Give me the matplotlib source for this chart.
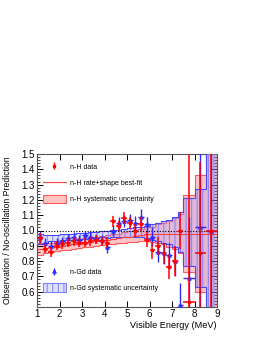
import matplotlib
matplotlib.use("Agg")
import matplotlib.pyplot as plt
from matplotlib.patches import Patch
from matplotlib.lines import Line2D

plt.rcParams['font.family'] = ['Liberation Sans', 'DejaVu Sans']
plt.rcParams['hatch.linewidth'] = 0.7

# bin edges (MeV)
edges = [1.0, 1.25, 1.5, 1.75, 2.0, 2.25, 2.5, 2.75, 3.0, 3.25, 3.5, 3.75, 4.0,
         4.25, 4.5, 4.75, 5.0, 5.25, 5.5, 5.75, 6.0, 6.25, 6.5, 6.75, 7.0,
         7.25, 7.5, 8.0, 8.5, 9.0]
centers = [1.125, 1.375, 1.625, 1.875, 2.125, 2.375, 2.625, 2.875, 3.125, 3.375,
           3.625, 3.875, 4.125, 4.375, 4.625, 4.875, 5.125, 5.375, 5.625, 5.875,
           6.125, 6.375, 6.625, 6.875, 7.125, 7.375, 7.75, 8.25, 8.75]

# n-H data
h_ratio = [0.95, 0.88, 0.86, 0.90, 0.91, 0.92, 0.93, 0.92, 0.92, 0.93, 0.94, 0.93,
           0.92, 1.06, 1.03, 1.08, 1.05, 1.00, 1.04, 0.94, 0.87, 0.90, 0.85, 0.76,
           0.80, 1.00, 0.53, 0.85, 1.00]
h_err = [0.035, 0.03, 0.03, 0.03, 0.03, 0.03, 0.03, 0.03, 0.03, 0.03, 0.03, 0.03,
         0.035, 0.035, 0.035, 0.04, 0.04, 0.04, 0.045, 0.05, 0.055, 0.06, 0.07, 0.08,
         0.1, 0.12, 1.0, 0.6, 0.8]
# n-H best-fit prediction and its systematic band half-width
h_fit = [0.88, 0.885, 0.89, 0.895, 0.90, 0.905, 0.91, 0.915, 0.92, 0.925, 0.93, 0.935,
         0.94, 0.945, 0.95, 0.955, 0.96, 0.965, 0.97, 0.975, 0.975, 0.98, 0.98, 0.98,
         0.98, 0.98, 0.98, 0.98, 0.98]
h_syst = [0.04, 0.035, 0.03, 0.03, 0.03, 0.03, 0.03, 0.03, 0.03, 0.03, 0.03, 0.03,
          0.03, 0.03, 0.03, 0.035, 0.035, 0.04, 0.04, 0.045, 0.05, 0.06, 0.07, 0.085,
          0.1, 0.13, 0.25, 0.38, 0.7]

# n-Gd data
gd_ratio = [0.96, 0.92, 0.90, 0.92, 0.93, 0.95, 0.96, 0.94, 0.97, 0.96, 0.95, 0.94,
            0.89, 1.00, 1.05, 1.06, 1.07, 1.05, 1.09, 1.04, 0.96, 0.86, 0.85, 0.84,
            0.80, 0.51, 0.69, 1.02, 1.00]
gd_err = [0.035, 0.03, 0.03, 0.03, 0.03, 0.03, 0.03, 0.03, 0.03, 0.03, 0.03, 0.03,
          0.035, 0.035, 0.04, 0.04, 0.04, 0.045, 0.05, 0.05, 0.06, 0.065, 0.07, 0.08,
          0.1, 0.15, 0.4, 0.6, 0.9]
gd_pred = [0.945, 0.945, 0.95, 0.95, 0.955, 0.96, 0.96, 0.965, 0.965, 0.97, 0.97, 0.975,
           0.975, 0.98, 0.98, 0.985, 0.985, 0.99, 0.99, 0.99, 0.99, 0.99, 0.99, 0.99,
           0.99, 0.99, 0.99, 0.95, 1.0]
gd_syst = [0.03, 0.025, 0.02, 0.02, 0.02, 0.02, 0.02, 0.02, 0.02, 0.02, 0.02, 0.02,
           0.025, 0.025, 0.025, 0.025, 0.03, 0.03, 0.035, 0.04, 0.05, 0.06, 0.07, 0.08,
           0.1, 0.13, 0.22, 0.32, 0.7]

half_w = [(edges[i + 1] - edges[i]) / 2 for i in range(len(centers))]

fig = plt.figure(figsize=(2.61, 3.38), dpi=100)
ax = fig.add_axes([37 / 261, 31 / 338, 180 / 261, 153 / 338])

red = '#ff0000'
blue = '#2a2aff'
gd_fill = (0.6, 0.6, 1.0, 0.3)

# n-H systematic band
h_lo = [f - s for f, s in zip(h_fit, h_syst)]
h_hi = [f + s for f, s in zip(h_fit, h_syst)]
ax.stairs(h_hi, edges, baseline=h_lo, fill=True, facecolor='#ffc4c4', edgecolor='none', zorder=1)
ax.stairs(h_hi, edges, baseline=None, color='#ff5a5a', lw=0.8, zorder=2)
ax.stairs(h_lo, edges, baseline=None, color='#ff5a5a', lw=0.8, zorder=2)

# n-Gd systematic band
g_lo = [p - s for p, s in zip(gd_pred, gd_syst)]
g_hi = [p + s for p, s in zip(gd_pred, gd_syst)]
ax.stairs(g_hi, edges, baseline=g_lo, fill=True, facecolor=gd_fill,
          edgecolor='#8080ff', hatch='|||', lw=0, zorder=3)
ax.stairs(g_hi, edges, baseline=None, color='#4848ff', lw=0.8, zorder=4)
ax.stairs(g_lo, edges, baseline=None, color='#4848ff', lw=0.8, zorder=4)

# best fit line
ax.stairs(h_fit, edges, baseline=None, color='#ff4040', lw=0.8, zorder=5)
ax.axhline(1.0, color='black', ls=(0, (1, 1.5)), lw=0.8, zorder=5)

# data
ax.errorbar(centers, h_ratio, xerr=half_w, yerr=h_err, fmt='s', ms=1.8, color=red,
            elinewidth=1.1, capsize=0, zorder=7)
ax.errorbar(centers, gd_ratio, xerr=half_w, yerr=gd_err, fmt='^', ms=2.5, color=blue,
            mfc='none', mew=0.8, elinewidth=1.0, capsize=0, zorder=6)

ax.set_xlim(1, 9)
ax.set_ylim(0.5, 1.5)
ax.set_xticks(range(1, 10))
yt = [0.5, 0.6, 0.7, 0.8, 0.9, 1.0, 1.1, 1.2, 1.3, 1.4, 1.5]
ax.set_yticks(yt)
ax.set_yticklabels([''] + ['%.1f' % v for v in yt[1:]])
ax.set_yticks([0.5 + 0.02 * i for i in range(51)], minor=True)
ax.tick_params(which='both', direction='in', top=True, right=True, labelsize=7, pad=1.5)
ax.tick_params(which='major', length=4, width=0.7)
ax.tick_params(which='minor', length=2, width=0.5)
for s in ax.spines.values():
    s.set_color('#555555')
    s.set_linewidth(0.8)

# legends
h_data = ax.errorbar([], [], yerr=[], fmt='s', ms=1.8, color=red, elinewidth=1.0)
h_line = Line2D([], [], color='#ff4040', lw=0.8)
h_band = Patch(facecolor='#ffc4c4', edgecolor='#ff5a5a', lw=0.8)
leg1 = ax.legend([h_data, h_line, h_band],
                 ['n-H data', 'n-H rate+shape best-fit', 'n-H systematic uncertainty'],
                 loc='upper left', bbox_to_anchor=(0.02, 0.965), frameon=False,
                 fontsize=5, labelspacing=1.05, handlelength=3.2, handleheight=1.6,
                 handletextpad=0.6, borderaxespad=0)
ax.add_artist(leg1)
g_data = ax.errorbar([], [], yerr=[], fmt='^', ms=2.5, color=blue, mfc='none', mew=0.8,
                     elinewidth=1.0)
g_band = Patch(facecolor=gd_fill, edgecolor='#8080ff', hatch='|||', lw=0.8)
ax.legend([g_data, g_band], ['n-Gd data', 'n-Gd systematic uncertainty'],
          loc='upper left', bbox_to_anchor=(0.02, 0.275), frameon=False,
          fontsize=5, labelspacing=0.9, handlelength=3.2, handleheight=1.6,
          handletextpad=0.6, borderaxespad=0)

fig.text(8 / 261, 1 - 156 / 338, 'Observation / No-oscillation Prediction',
         rotation=90, ha='center', va='top', fontsize=6.2)
fig.text(217 / 261, 1 - 325 / 338, 'Visible Energy (MeV)', ha='right', va='center',
         fontsize=6.6)

fig.savefig('out.png', dpi=100)
